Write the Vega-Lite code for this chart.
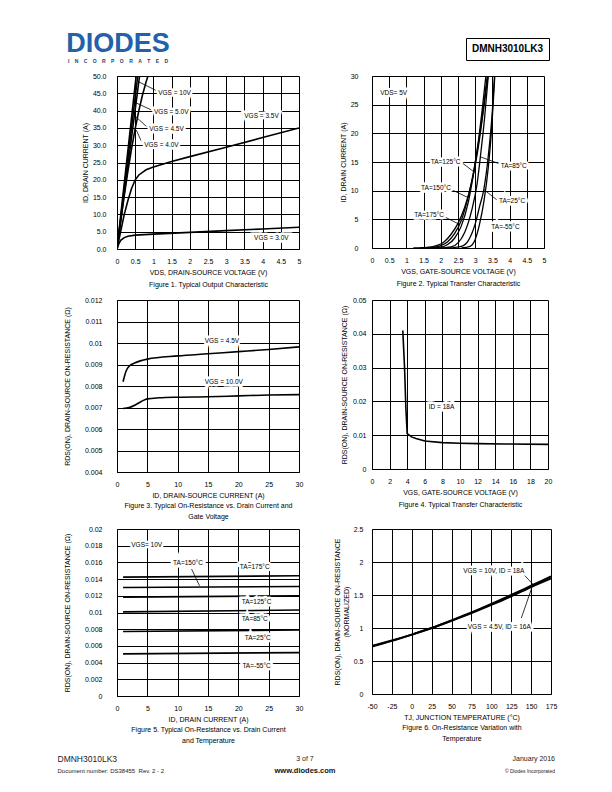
{
  "$schema": "https://vega.github.io/schema/vega-lite/v6.json",
  "padding": 0,
  "background": "white",
  "spacing": 0,
  "config": {
    "font": "Liberation Sans",
    "view": {"stroke": null},
    "axis": {"grid": true, "gridColor": "black", "gridOpacity": 1, "gridWidth": 1, "domainColor": "black", "domainWidth": 1, "ticks": false, "labelFont": "Liberation Sans", "labelFontSize": 7, "labelColor": "black", "labelPadding": 8, "labelFlush": false, "labelOverlap": false, "titleFont": "Liberation Sans", "titleFontSize": 7, "titleFontWeight": "normal", "titleColor": "black", "titleLineHeight": 11, "titlePadding": 4},
    "text": {"font": "Liberation Sans", "fontSize": 6.5, "color": "black"}
  },
  "datasets": {
    "f1": [
      {"s": "10V", "x": 0, "y": 0}, {"s": "10V", "x": 0.1, "y": 9.5}, {"s": "10V", "x": 0.3, "y": 28.5}, {"s": "10V", "x": 0.526, "y": 50},
      {"s": "5V", "x": 0, "y": 0}, {"s": "5V", "x": 0.1, "y": 8.8}, {"s": "5V", "x": 0.3, "y": 26.4}, {"s": "5V", "x": 0.57, "y": 50},
      {"s": "4.5V", "x": 0, "y": 0}, {"s": "4.5V", "x": 0.1, "y": 8.1}, {"s": "4.5V", "x": 0.3, "y": 24.2}, {"s": "4.5V", "x": 0.62, "y": 50},
      {"s": "4V", "x": 0, "y": 0}, {"s": "4V", "x": 0.1, "y": 7.8}, {"s": "4V", "x": 0.2, "y": 15.5}, {"s": "4V", "x": 0.3, "y": 22.5}, {"s": "4V", "x": 0.4, "y": 29}, {"s": "4V", "x": 0.5, "y": 34.8}, {"s": "4V", "x": 0.6, "y": 40}, {"s": "4V", "x": 0.7, "y": 44.5}, {"s": "4V", "x": 0.8, "y": 48.3}, {"s": "4V", "x": 0.85, "y": 50},
      {"s": "3.5V", "x": 0, "y": 0}, {"s": "3.5V", "x": 0.1, "y": 5}, {"s": "3.5V", "x": 0.2, "y": 10}, {"s": "3.5V", "x": 0.3, "y": 14}, {"s": "3.5V", "x": 0.4, "y": 17.5}, {"s": "3.5V", "x": 0.5, "y": 20}, {"s": "3.5V", "x": 0.6, "y": 21.4}, {"s": "3.5V", "x": 0.8, "y": 22.9}, {"s": "3.5V", "x": 1, "y": 23.7}, {"s": "3.5V", "x": 1.5, "y": 25.3}, {"s": "3.5V", "x": 2, "y": 26.7}, {"s": "3.5V", "x": 3, "y": 29.4}, {"s": "3.5V", "x": 4, "y": 32.2}, {"s": "3.5V", "x": 5, "y": 35},
      {"s": "3V", "x": 0, "y": 0}, {"s": "3V", "x": 0.05, "y": 1.5}, {"s": "3V", "x": 0.1, "y": 2.5}, {"s": "3V", "x": 0.2, "y": 3.3}, {"s": "3V", "x": 0.3, "y": 3.7}, {"s": "3V", "x": 0.5, "y": 4.0}, {"s": "3V", "x": 1, "y": 4.3}, {"s": "3V", "x": 2, "y": 4.8}, {"s": "3V", "x": 3, "y": 5.3}, {"s": "3V", "x": 4, "y": 5.8}, {"s": "3V", "x": 5, "y": 6.3}
    ],
    "f1lab": [
      {"t": "VGS = 10V", "x": 1.58, "y": 45.2}, {"t": "VGS = 5.0V", "x": 1.49, "y": 39.7}, {"t": "VGS = 4.5V", "x": 1.36, "y": 34.6}, {"t": "VGS = 4.0V", "x": 1.22, "y": 30.1}, {"t": "VGS = 3.5V", "x": 3.97, "y": 38.3}, {"t": "VGS = 3.0V", "x": 4.24, "y": 3.2}
    ],
    "f1arr": [
      {"x": 1.08, "y": 45.8, "x2": 0.58, "y2": 48.4}, {"x": 0.94, "y": 40.2, "x2": 0.49, "y2": 42.4}, {"x": 0.81, "y": 35.4, "x2": 0.51, "y2": 38.3}, {"x": 0.67, "y": 31.1, "x2": 0.53, "y2": 34.4}
    ],
    "f2": [
      {"s": "175", "x": 1.2, "y": 0}, {"s": "175", "x": 1.6, "y": 0.1}, {"s": "175", "x": 1.9, "y": 0.45}, {"s": "175", "x": 2.1, "y": 1.1}, {"s": "175", "x": 2.3, "y": 2.4}, {"s": "175", "x": 2.5, "y": 4.3}, {"s": "175", "x": 2.7, "y": 7.2}, {"s": "175", "x": 2.9, "y": 11.5}, {"s": "175", "x": 3.1, "y": 18}, {"s": "175", "x": 3.25, "y": 24.5}, {"s": "175", "x": 3.37, "y": 30},
      {"s": "150", "x": 1.4, "y": 0}, {"s": "150", "x": 1.8, "y": 0.1}, {"s": "150", "x": 2.0, "y": 0.4}, {"s": "150", "x": 2.2, "y": 1.1}, {"s": "150", "x": 2.4, "y": 2.5}, {"s": "150", "x": 2.6, "y": 4.9}, {"s": "150", "x": 2.79, "y": 8.8}, {"s": "150", "x": 2.95, "y": 13.2}, {"s": "150", "x": 3.1, "y": 18.5}, {"s": "150", "x": 3.25, "y": 25}, {"s": "150", "x": 3.35, "y": 30},
      {"s": "125", "x": 1.6, "y": 0}, {"s": "125", "x": 2.0, "y": 0.15}, {"s": "125", "x": 2.2, "y": 0.6}, {"s": "125", "x": 2.4, "y": 1.7}, {"s": "125", "x": 2.6, "y": 3.9}, {"s": "125", "x": 2.8, "y": 8.0}, {"s": "125", "x": 2.96, "y": 13.3}, {"s": "125", "x": 3.1, "y": 19}, {"s": "125", "x": 3.22, "y": 25}, {"s": "125", "x": 3.31, "y": 30},
      {"s": "85", "x": 1.9, "y": 0}, {"s": "85", "x": 2.3, "y": 0.2}, {"s": "85", "x": 2.5, "y": 0.9}, {"s": "85", "x": 2.7, "y": 2.8}, {"s": "85", "x": 2.9, "y": 6.6}, {"s": "85", "x": 3.05, "y": 11}, {"s": "85", "x": 3.15, "y": 15.9}, {"s": "85", "x": 3.27, "y": 22.5}, {"s": "85", "x": 3.38, "y": 30},
      {"s": "25", "x": 2.2, "y": 0}, {"s": "25", "x": 2.6, "y": 0.3}, {"s": "25", "x": 2.8, "y": 1.3}, {"s": "25", "x": 3.0, "y": 4.2}, {"s": "25", "x": 3.13, "y": 7.3}, {"s": "25", "x": 3.25, "y": 10.2}, {"s": "25", "x": 3.38, "y": 16}, {"s": "25", "x": 3.5, "y": 24}, {"s": "25", "x": 3.56, "y": 30},
      {"s": "-55", "x": 2.6, "y": 0}, {"s": "-55", "x": 2.85, "y": 0.3}, {"s": "-55", "x": 3.0, "y": 1.5}, {"s": "-55", "x": 3.12, "y": 4}, {"s": "-55", "x": 3.25, "y": 8}, {"s": "-55", "x": 3.38, "y": 14}, {"s": "-55", "x": 3.48, "y": 21}, {"s": "-55", "x": 3.57, "y": 30}
    ],
    "f2lab": [
      {"t": "VDS= 5V", "x": 0.63, "y": 27.1}, {"t": "TA=125°C", "x": 2.14, "y": 15.0}, {"t": "TA=85°C", "x": 4.12, "y": 14.3}, {"t": "TA=150°C", "x": 1.86, "y": 10.4}, {"t": "TA=25°C", "x": 4.07, "y": 8.2}, {"t": "TA=175°C", "x": 1.66, "y": 5.7}, {"t": "TA=-55°C", "x": 3.88, "y": 3.7}
    ],
    "f2arr": [
      {"x": 2.62, "y": 14.85, "x2": 2.96, "y2": 13.3}, {"x": 3.7, "y": 14.7, "x2": 3.15, "y2": 15.9}, {"x": 2.3, "y": 10.2, "x2": 2.79, "y2": 8.8}, {"x": 3.65, "y": 8.3, "x2": 3.25, "y2": 10.2}, {"x": 2.12, "y": 5.4, "x2": 2.5, "y2": 4.25}
    ],
    "f3": [
      {"s": "4.5", "x": 1, "y": 0.0082}, {"s": "4.5", "x": 1.5, "y": 0.0087}, {"s": "4.5", "x": 2, "y": 0.00892}, {"s": "4.5", "x": 3, "y": 0.00908}, {"s": "4.5", "x": 5, "y": 0.00925}, {"s": "4.5", "x": 10, "y": 0.0094}, {"s": "4.5", "x": 15, "y": 0.0095}, {"s": "4.5", "x": 20, "y": 0.0096}, {"s": "4.5", "x": 25, "y": 0.0097}, {"s": "4.5", "x": 30, "y": 0.00982},
      {"s": "10", "x": 1, "y": 0.00695}, {"s": "10", "x": 2, "y": 0.007}, {"s": "10", "x": 3, "y": 0.00712}, {"s": "10", "x": 4, "y": 0.00728}, {"s": "10", "x": 5, "y": 0.0074}, {"s": "10", "x": 7, "y": 0.00745}, {"s": "10", "x": 10, "y": 0.00748}, {"s": "10", "x": 15, "y": 0.0075}, {"s": "10", "x": 20, "y": 0.00754}, {"s": "10", "x": 25, "y": 0.00758}, {"s": "10", "x": 30, "y": 0.0076}
    ],
    "f3lab": [
      {"t": "VGS = 4.5V", "x": 17.3, "y": 0.0101}, {"t": "VGS = 10.0V", "x": 17.6, "y": 0.00818}
    ],
    "f4": [
      {"x": 3.5, "y": 0.041}, {"x": 3.7, "y": 0.03}, {"x": 3.85, "y": 0.018}, {"x": 4, "y": 0.0105}, {"x": 4.5, "y": 0.0095}, {"x": 5, "y": 0.009}, {"x": 6, "y": 0.0083}, {"x": 8, "y": 0.0078}, {"x": 10, "y": 0.0076}, {"x": 12, "y": 0.0075}, {"x": 15, "y": 0.0074}, {"x": 20, "y": 0.0073}
    ],
    "f4lab": [{"t": "ID = 18A", "x": 7.9, "y": 0.0183}],
    "f5": [
      {"s": "175", "x": 1, "y": 0.01424}, {"s": "175", "x": 30, "y": 0.0144},
      {"s": "150", "x": 1, "y": 0.013}, {"s": "150", "x": 30, "y": 0.01312},
      {"s": "125", "x": 1, "y": 0.01184}, {"s": "125", "x": 30, "y": 0.012},
      {"s": "85", "x": 1, "y": 0.01008}, {"s": "85", "x": 30, "y": 0.0103},
      {"s": "25", "x": 1, "y": 0.00772}, {"s": "25", "x": 30, "y": 0.0079},
      {"s": "-55", "x": 1, "y": 0.00504}, {"s": "-55", "x": 30, "y": 0.0052}
    ],
    "f5lab": [
      {"t": "VGS= 10V", "x": 4.9, "y": 0.0181}, {"t": "TA=150°C", "x": 11.7, "y": 0.01588}, {"t": "TA=175°C", "x": 22.7, "y": 0.0154}, {"t": "TA=125°C", "x": 23, "y": 0.0112}, {"t": "TA=85°C", "x": 22.7, "y": 0.00928}, {"t": "TA=25°C", "x": 23.2, "y": 0.00696}, {"t": "TA=-55°C", "x": 23, "y": 0.0036}
    ],
    "f5arr": [{"x": 12.3, "y": 0.0152, "x2": 13.6, "y2": 0.0132}],
    "f6": [
      {"s": "a", "x": -50, "y": 0.72}, {"s": "a", "x": -25, "y": 0.805}, {"s": "a", "x": 0, "y": 0.9}, {"s": "a", "x": 25, "y": 1.0}, {"s": "a", "x": 50, "y": 1.115}, {"s": "a", "x": 75, "y": 1.235}, {"s": "a", "x": 100, "y": 1.365}, {"s": "a", "x": 125, "y": 1.5}, {"s": "a", "x": 150, "y": 1.64}, {"s": "a", "x": 175, "y": 1.78},
      {"s": "b", "x": -50, "y": 0.73}, {"s": "b", "x": -25, "y": 0.81}, {"s": "b", "x": 0, "y": 0.9}, {"s": "b", "x": 25, "y": 1.0}, {"s": "b", "x": 50, "y": 1.11}, {"s": "b", "x": 75, "y": 1.225}, {"s": "b", "x": 100, "y": 1.35}, {"s": "b", "x": 125, "y": 1.48}, {"s": "b", "x": 150, "y": 1.62}, {"s": "b", "x": 175, "y": 1.75}
    ],
    "f6lab": [
      {"t": "VGS = 10V, ID = 18A", "x": 103, "y": 1.86}, {"t": "VGS = 4.5V, ID = 16A", "x": 110, "y": 1.01}
    ],
    "f6arr": [{"x": 140, "y": 1.82, "x2": 152.5, "y2": 1.66}, {"x": 137.7, "y": 1.15, "x2": 150.6, "y2": 1.6}]
  },
  "vconcat": [
    {
      "columns": 4, "spacing": 0, "bounds": "flush",
      "concat": [
        {"width": 66, "height": 38, "data": {"values": []}, "mark": "point"},
        {"width": 104, "height": 1, "data": {"values": []}, "mark": "point"},
        {"width": 296, "height": 1, "data": {"values": []}, "mark": "point"},
        {"width": 83, "height": 1, "data": {"values": []}, "mark": "point"},
        {"width": 1, "height": 1, "data": {"values": []}, "mark": "point"},
        {"width": 104, "height": 12, "data": {"values": [{"t": "DIODES"}]}, "mark": {"type": "text", "font": "Liberation Sans", "fontSize": 27, "fontWeight": "bold", "color": "#2461a8", "baseline": "middle", "align": "center"}, "encoding": {"text": {"field": "t"}}},
        {"width": 1, "height": 1, "data": {"values": []}, "mark": "point"},
        {"width": 83, "height": 22, "view": {"stroke": "black", "strokeWidth": 1}, "data": {"values": [{"t": "DMNH3010LK3"}]}, "mark": {"type": "text", "font": "Liberation Sans", "fontSize": 10, "fontWeight": "bold", "baseline": "middle", "align": "center"}, "encoding": {"text": {"field": "t"}}},
        {"width": 1, "height": 12, "data": {"values": []}, "mark": "point"},
        {"width": 104, "height": 2, "data": {"values": [{"t": "I\u2003\u200aN\u2003\u200aC\u2003\u200aO\u2003\u200aR\u2003\u200aP\u2003\u200aO\u2003\u200aR\u2003\u200aA\u2003\u200aT\u2003\u200aE\u2003\u200aD"}]}, "mark": {"type": "text", "font": "Liberation Sans", "fontSize": 5, "fontWeight": "bold", "color": "#1d3f73", "baseline": "middle", "align": "center"}, "encoding": {"text": {"field": "t"}}},
        {"width": 1, "height": 1, "data": {"values": []}, "mark": "point"},
        {"width": 1, "height": 1, "data": {"values": []}, "mark": "point"}
      ]
    },
    {
      "columns": 4, "spacing": 0, "bounds": "flush",
      "concat": [
        {"width": 117, "height": 4, "data": {"values": []}, "mark": "point"},
        {"width": 182, "height": 1, "data": {"values": []}, "mark": "point"},
        {"width": 73, "height": 1, "data": {"values": []}, "mark": "point"},
        {"width": 1, "height": 1, "data": {"values": []}, "mark": "point"},
        {"width": 1, "height": 220, "data": {"values": []}, "mark": "point"},
        {
          "width": 182, "height": 173,
          "layer": [
            {"data": {"name": "f1"}, "mark": {"type": "line", "color": "black", "strokeWidth": 1.6, "clip": true},
             "encoding": {
               "x": {"field": "x", "type": "quantitative", "scale": {"domain": [0, 5], "nice": false, "zero": false}, "axis": {"values": [0, 0.5, 1, 1.5, 2, 2.5, 3, 3.5, 4, 4.5, 5], "tickCount": 30, "format": "~g", "titleLineHeight": 12, "title": ["VDS, DRAIN-SOURCE VOLTAGE (V)", "Figure 1. Typical Output Characteristic"]}},
               "y": {"field": "y", "type": "quantitative", "scale": {"domain": [0, 50], "nice": false}, "axis": {"values": [0, 5, 10, 15, 20, 25, 30, 35, 40, 45, 50], "tickCount": 30, "format": ".1f", "labelPadding": 11, "titlePadding": 4, "title": "ID, DRAIN CURRENT (A)"}},
               "detail": {"field": "s"}
             }},
            {"data": {"name": "f1arr"}, "mark": {"type": "rule", "color": "black", "strokeWidth": 0.8},
             "encoding": {"x": {"field": "x", "type": "quantitative"}, "y": {"field": "y", "type": "quantitative"}, "x2": {"field": "x2"}, "y2": {"field": "y2"}}},
            {"data": {"name": "f1lab"}, "mark": {"type": "text", "stroke": "white", "strokeWidth": 5, "color": "white"},
             "encoding": {"x": {"field": "x", "type": "quantitative"}, "y": {"field": "y", "type": "quantitative"}, "text": {"field": "t"}}},
            {"data": {"name": "f1lab"}, "mark": {"type": "text"},
             "encoding": {"x": {"field": "x", "type": "quantitative"}, "y": {"field": "y", "type": "quantitative"}, "text": {"field": "t"}}}
          ]
        },
        {"width": 1, "height": 1, "data": {"values": []}, "mark": "point"},
        {
          "width": 172, "height": 172,
          "layer": [
            {"data": {"name": "f2"}, "mark": {"type": "line", "color": "black", "strokeWidth": 1.3, "clip": true, "interpolate": "monotone"},
             "encoding": {
               "x": {"field": "x", "type": "quantitative", "scale": {"domain": [0, 5], "nice": false, "zero": false}, "axis": {"values": [0, 0.5, 1, 1.5, 2, 2.5, 3, 3.5, 4, 4.5, 5], "tickCount": 30, "format": "~g", "titleLineHeight": 12, "title": ["VGS, GATE-SOURCE VOLTAGE (V)", "Figure 2. Typical Transfer Characteristic"]}},
               "y": {"field": "y", "type": "quantitative", "scale": {"domain": [0, 30], "nice": false}, "axis": {"values": [0, 5, 10, 15, 20, 25, 30], "tickCount": 30, "format": "d", "labelPadding": 14, "title": "ID, DRAIN CURRENT (A)"}},
               "detail": {"field": "s"}
             }},
            {"data": {"name": "f2arr"}, "mark": {"type": "rule", "color": "black", "strokeWidth": 0.8},
             "encoding": {"x": {"field": "x", "type": "quantitative"}, "y": {"field": "y", "type": "quantitative"}, "x2": {"field": "x2"}, "y2": {"field": "y2"}}},
            {"data": {"name": "f2lab"}, "mark": {"type": "text", "stroke": "white", "strokeWidth": 5, "color": "white"},
             "encoding": {"x": {"field": "x", "type": "quantitative"}, "y": {"field": "y", "type": "quantitative"}, "text": {"field": "t"}}},
            {"data": {"name": "f2lab"}, "mark": {"type": "text"},
             "encoding": {"x": {"field": "x", "type": "quantitative"}, "y": {"field": "y", "type": "quantitative"}, "text": {"field": "t"}}}
          ]
        }
      ]
    },
    {
      "columns": 4, "spacing": 0, "bounds": "flush",
      "concat": [
        {"width": 117, "height": 4, "data": {"values": []}, "mark": "point"},
        {"width": 182, "height": 1, "data": {"values": []}, "mark": "point"},
        {"width": 73, "height": 1, "data": {"values": []}, "mark": "point"},
        {"width": 1, "height": 1, "data": {"values": []}, "mark": "point"},
        {"width": 1, "height": 225, "data": {"values": []}, "mark": "point"},
        {
          "width": 182, "height": 172,
          "layer": [
            {"data": {"name": "f3"}, "mark": {"type": "line", "color": "black", "strokeWidth": 1.6, "clip": true, "interpolate": "monotone"},
             "encoding": {
               "x": {"field": "x", "type": "quantitative", "scale": {"domain": [0, 30], "nice": false, "zero": false}, "axis": {"values": [0, 5, 10, 15, 20, 25, 30], "tickCount": 30, "format": "d", "titleLineHeight": 10.5, "title": ["ID, DRAIN-SOURCE CURRENT (A)", "Figure 3. Typical On-Resistance vs. Drain Current and", "Gate Voltage"]}},
               "y": {"field": "y", "type": "quantitative", "scale": {"domain": [0.004, 0.012], "nice": false, "zero": false}, "axis": {"values": [0.004, 0.005, 0.006, 0.007, 0.008, 0.009, 0.01, 0.011, 0.012], "tickCount": 30, "format": "~g", "labelPadding": 15, "titlePadding": 14, "title": "RDS(ON), DRAIN-SOURCE ON-RESISTANCE (Ω)"}},
               "detail": {"field": "s"}
             }},
            {"data": {"name": "f3lab"}, "mark": {"type": "text", "stroke": "white", "strokeWidth": 5, "color": "white"},
             "encoding": {"x": {"field": "x", "type": "quantitative"}, "y": {"field": "y", "type": "quantitative"}, "text": {"field": "t"}}},
            {"data": {"name": "f3lab"}, "mark": {"type": "text"},
             "encoding": {"x": {"field": "x", "type": "quantitative"}, "y": {"field": "y", "type": "quantitative"}, "text": {"field": "t"}}}
          ]
        },
        {"width": 1, "height": 1, "data": {"values": []}, "mark": "point"},
        {
          "width": 176, "height": 169,
          "layer": [
            {"data": {"name": "f4"}, "mark": {"type": "line", "color": "black", "strokeWidth": 1.6, "clip": true},
             "encoding": {
               "x": {"field": "x", "type": "quantitative", "scale": {"domain": [0, 20], "nice": false, "zero": false}, "axis": {"values": [0, 2, 4, 6, 8, 10, 12, 14, 16, 18, 20], "tickCount": 30, "format": "d", "titleLineHeight": 12, "title": ["VGS, GATE-SOURCE VOLTAGE (V)", "Figure 4. Typical Transfer Characteristic"]}},
               "y": {"field": "y", "type": "quantitative", "scale": {"domain": [0, 0.05], "nice": false}, "axis": {"values": [0, 0.01, 0.02, 0.03, 0.04, 0.05], "tickCount": 30, "format": "~g", "labelPadding": 6, "titlePadding": 5, "title": "RDS(ON), DRAIN-SOURCE ON-RESISTANCE (Ω)"}}
             }},
            {"data": {"name": "f4lab"}, "mark": {"type": "text", "stroke": "white", "strokeWidth": 5, "color": "white"},
             "encoding": {"x": {"field": "x", "type": "quantitative"}, "y": {"field": "y", "type": "quantitative"}, "text": {"field": "t"}}},
            {"data": {"name": "f4lab"}, "mark": {"type": "text"},
             "encoding": {"x": {"field": "x", "type": "quantitative"}, "y": {"field": "y", "type": "quantitative"}, "text": {"field": "t"}}}
          ]
        }
      ]
    },
    {
      "columns": 4, "spacing": 0, "bounds": "flush",
      "concat": [
        {"width": 117, "height": 4, "data": {"values": []}, "mark": "point"},
        {"width": 182, "height": 1, "data": {"values": []}, "mark": "point"},
        {"width": 73, "height": 1, "data": {"values": []}, "mark": "point"},
        {"width": 1, "height": 1, "data": {"values": []}, "mark": "point"},
        {"width": 1, "height": 221, "data": {"values": []}, "mark": "point"},
        {
          "width": 182, "height": 167,
          "layer": [
            {"data": {"name": "f5"}, "mark": {"type": "line", "color": "black", "strokeWidth": 1.6, "clip": true},
             "encoding": {
               "x": {"field": "x", "type": "quantitative", "scale": {"domain": [0, 30], "nice": false, "zero": false}, "axis": {"values": [0, 5, 10, 15, 20, 25, 30], "tickCount": 30, "format": "d", "titleLineHeight": 10.5, "title": ["ID, DRAIN CURRENT (A)", "Figure 5. Typical On-Resistance vs. Drain Current", "and Temperature"]}},
               "y": {"field": "y", "type": "quantitative", "scale": {"domain": [0, 0.02], "nice": false}, "axis": {"values": [0, 0.002, 0.004, 0.006, 0.008, 0.01, 0.012, 0.014, 0.016, 0.018, 0.02], "tickCount": 30, "format": "~g", "labelPadding": 15, "titlePadding": 14, "title": "RDS(ON), DRAIN-SOURCE ON-RESISTANCE (Ω)"}},
               "detail": {"field": "s"}
             }},
            {"data": {"name": "f5arr"}, "mark": {"type": "rule", "color": "black", "strokeWidth": 0.8},
             "encoding": {"x": {"field": "x", "type": "quantitative"}, "y": {"field": "y", "type": "quantitative"}, "x2": {"field": "x2"}, "y2": {"field": "y2"}}},
            {"data": {"name": "f5lab"}, "mark": {"type": "text", "stroke": "white", "strokeWidth": 5, "color": "white"},
             "encoding": {"x": {"field": "x", "type": "quantitative"}, "y": {"field": "y", "type": "quantitative"}, "text": {"field": "t"}}},
            {"data": {"name": "f5lab"}, "mark": {"type": "text"},
             "encoding": {"x": {"field": "x", "type": "quantitative"}, "y": {"field": "y", "type": "quantitative"}, "text": {"field": "t"}}}
          ]
        },
        {"width": 1, "height": 1, "data": {"values": []}, "mark": "point"},
        {
          "width": 179, "height": 165,
          "layer": [
            {"data": {"name": "f6"}, "mark": {"type": "line", "color": "black", "strokeWidth": 2, "clip": true, "interpolate": "monotone"},
             "encoding": {
               "x": {"field": "x", "type": "quantitative", "scale": {"domain": [-50, 175], "nice": false, "zero": false}, "axis": {"values": [-50, -25, 0, 25, 50, 75, 100, 125, 150, 175], "tickCount": 30, "labelExpr": "'' + datum.value", "titleLineHeight": 10.5, "title": ["TJ, JUNCTION TEMPERATURE (°C)", "Figure 6. On-Resistance Variation with", "Temperature"]}},
               "y": {"field": "y", "type": "quantitative", "scale": {"domain": [0, 2.5], "nice": false}, "axis": {"values": [0, 0.5, 1, 1.5, 2, 2.5], "tickCount": 30, "format": "~g", "labelPadding": 9, "titleLineHeight": 9, "title": ["RDS(ON), DRAIN-SOURCE ON-RESISTANCE", "(NORMALIZED)"]}},
               "detail": {"field": "s"}
             }},
            {"data": {"name": "f6arr"}, "mark": {"type": "rule", "color": "black", "strokeWidth": 0.8},
             "encoding": {"x": {"field": "x", "type": "quantitative"}, "y": {"field": "y", "type": "quantitative"}, "x2": {"field": "x2"}, "y2": {"field": "y2"}}},
            {"data": {"name": "f6lab"}, "mark": {"type": "text", "stroke": "white", "strokeWidth": 5, "color": "white"},
             "encoding": {"x": {"field": "x", "type": "quantitative"}, "y": {"field": "y", "type": "quantitative"}, "text": {"field": "t"}}},
            {"data": {"name": "f6lab"}, "mark": {"type": "text"},
             "encoding": {"x": {"field": "x", "type": "quantitative"}, "y": {"field": "y", "type": "quantitative"}, "text": {"field": "t"}}}
          ]
        }
      ]
    },
    {
      "columns": 4, "spacing": 0, "bounds": "flush",
      "concat": [
        {"width": 57, "height": 4, "data": {"values": []}, "mark": "point"},
        {"width": 1, "height": 1, "data": {"values": []}, "mark": "point"},
        {"width": 494, "height": 1, "data": {"values": []}, "mark": "point"},
        {"width": 6, "height": 1, "data": {"values": []}, "mark": "point"},
        {"width": 1, "height": 1, "data": {"values": []}, "mark": "point"},
        {"width": 1, "height": 10, "data": {"values": [{"t": "DMNH3010LK3"}]}, "mark": {"type": "text", "fontSize": 8.5, "baseline": "middle", "align": "left", "color": "#222"}, "encoding": {"text": {"field": "t"}}},
        {"width": 494, "height": 10, "data": {"values": [{"t": "3 of 7"}]}, "mark": {"type": "text", "fontSize": 7, "baseline": "middle", "align": "center", "color": "#222"}, "encoding": {"text": {"field": "t"}}},
        {"width": 6, "height": 10, "data": {"values": [{"t": "January 2016"}]}, "mark": {"type": "text", "fontSize": 7, "baseline": "middle", "align": "right", "color": "#222"}, "encoding": {"text": {"field": "t"}}},
        {"width": 1, "height": 1, "data": {"values": []}, "mark": "point"},
        {"width": 1, "height": 14, "data": {"values": [{"t": "Document number: DS38455\u00a0\u00a0Rev. 2 - 2"}]}, "mark": {"type": "text", "fontSize": 6, "baseline": "middle", "align": "left", "color": "#222"}, "encoding": {"text": {"field": "t"}}},
        {"width": 494, "height": 14, "data": {"values": [{"t": "www.diodes.com"}]}, "mark": {"type": "text", "fontSize": 7.5, "fontWeight": "bold", "baseline": "middle", "align": "center", "color": "#111"}, "encoding": {"text": {"field": "t"}}},
        {"width": 6, "height": 14, "data": {"values": [{"t": "© Diodes Incorporated"}]}, "mark": {"type": "text", "fontSize": 5, "baseline": "middle", "align": "right", "color": "#222"}, "encoding": {"text": {"field": "t"}}}
      ]
    }
  ]
}
